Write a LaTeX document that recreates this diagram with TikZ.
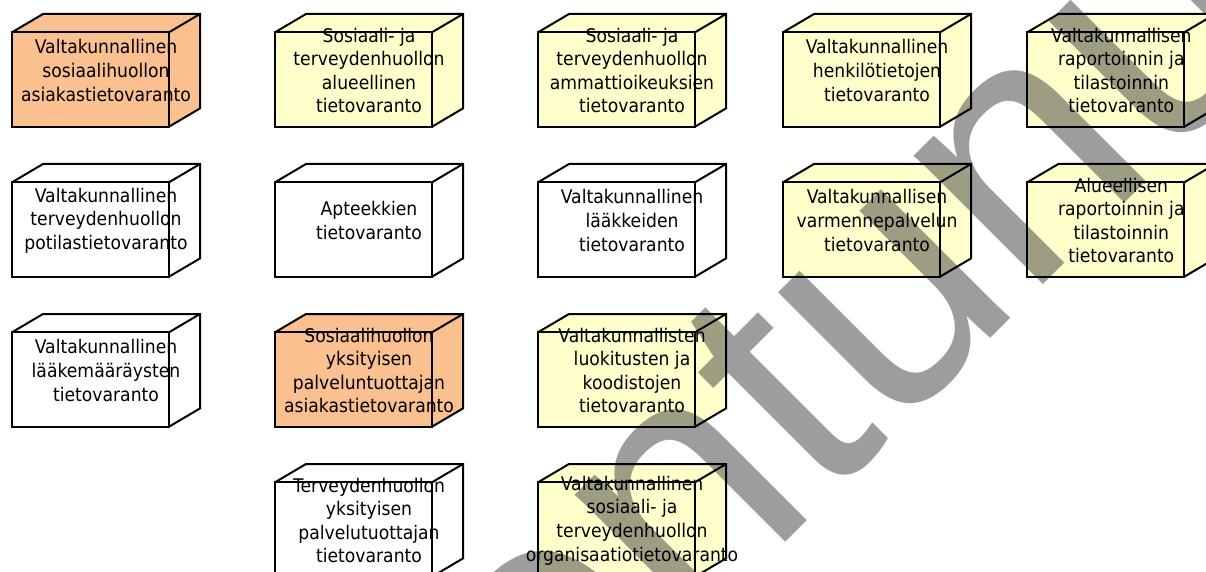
\documentclass[tikz,border=0pt]{standalone}
\usepackage{fontspec}
\setmainfont{DejaVu Sans}[FakeStretch=0.915]
\newfontfamily\stampfont{Liberation Sans}
\usetikzlibrary{calc}

\definecolor{sotefill}{HTML}{FFFFCC}
\definecolor{asiakasfill}{HTML}{FAC090}
\definecolor{stampgray}{rgb}{0.24,0.24,0.24}

\pgfdeclarelayer{fills}
\pgfdeclarelayer{mark}
\pgfsetlayers{fills,mark,main}

\tikzset{
  boxface/.style={draw, line width=2pt, inner sep=0pt, outer sep=0pt,
    minimum width=157pt, minimum height=94.4pt, anchor=north west},
  boxedge/.style={line width=2pt, line join=miter},
  boxtext/.style={align=center, inner sep=0pt,
    font=\fontsize{18.8}{23.6}\selectfont},
  stamptext/.style={inner sep=0pt, outer sep=0pt, text=stampgray,
    text opacity=0.5, font=\stampfont\fontsize{345}{345}\selectfont},
}

% one data store drawn as a 3D box: name, left x, top y of front face, fill, label
\newcommand\tvbox[5]{%
  \node[boxface] (#1) at (#2,#3) {};
  \begin{pgfonlayer}{fills}
    \fill[#4] (#1.north west) -- ++(31,-18.3) -- ++(157,0) -- ++(0,94.4)
      -- (#1.south east) -- (#1.south west) -- cycle;
  \end{pgfonlayer}
  \draw[boxedge] (#1.north west) -- ++(31,-18.3) -- ++(157,0) -- ++(0,94.4)
    -- (#1.south east);
  \draw[boxedge] (#1.north east) -- ++(31,-18.3);
  \node[boxtext] (#1-text) at ($(#1.north west)+(94,38.2)$) {#5};
}

\begin{document}
\begin{tikzpicture}[x=1pt,y=-1pt]
\useasboundingbox (0,0) rectangle (1206,572);
\begin{pgfonlayer}{fills}
  \fill[white] (0,0) rectangle (1206,572);
\end{pgfonlayer}

% diagonal stamp across the page, between the box fills and their outlines
\begin{pgfonlayer}{mark}
  \node[stamptext, anchor=base west, rotate=45] (stamp) at (0.7,1328) {Vanhentunut};
\end{pgfonlayer}

% first row
\tvbox{sosasiakas}{12}{32.3}{asiakasfill}{Valtakunnallinen\\sosiaalihuollon\\asiakastietovaranto}
\tvbox{alueellinen}{275}{32.3}{sotefill}{Sosiaali- ja\\terveydenhuollon\\alueellinen\\tietovaranto}
\tvbox{ammatti}{538}{32.3}{sotefill}{Sosiaali- ja\\terveydenhuollon\\ammattioikeuksien\\tietovaranto}
\tvbox{henkilo}{783}{32.3}{sotefill}{Valtakunnallinen\\henkilötietojen\\tietovaranto}
\tvbox{raportointi}{1027.3}{32.3}{sotefill}{Valtakunnallisen\\raportoinnin ja\\tilastoinnin\\tietovaranto}

% second row
\tvbox{potilas}{12}{182.3}{white}{Valtakunnallinen\\terveydenhuollon\\potilastietovaranto}
\tvbox{apteekki}{275}{182.3}{white}{Apteekkien\\tietovaranto}
\tvbox{laake}{538}{182.3}{white}{Valtakunnallinen\\lääkkeiden\\tietovaranto}
\tvbox{varmenne}{783}{182.3}{sotefill}{Valtakunnallisen\\varmennepalvelun\\tietovaranto}
\tvbox{aluerap}{1027.3}{182.3}{sotefill}{Alueellisen\\raportoinnin ja\\tilastoinnin\\tietovaranto}

% third row
\tvbox{laakemaar}{12}{332.3}{white}{Valtakunnallinen\\lääkemääräysten\\tietovaranto}
\tvbox{yksasiakas}{275}{332.3}{asiakasfill}{Sosiaalihuollon\\yksityisen\\palveluntuottajan\\asiakastietovaranto}
\tvbox{koodisto}{538}{332.3}{sotefill}{Valtakunnallisten\\luokitusten ja\\koodistojen\\tietovaranto}

% fourth row
\tvbox{yksterv}{275}{482.3}{white}{Terveydenhuollon\\yksityisen\\palvelutuottajan\\tietovaranto}
\tvbox{organisaatio}{538}{482.3}{sotefill}{Valtakunnallinen\\sosiaali- ja\\terveydenhuollon\\organisaatiotietovaranto}
\end{tikzpicture}
\end{document}
